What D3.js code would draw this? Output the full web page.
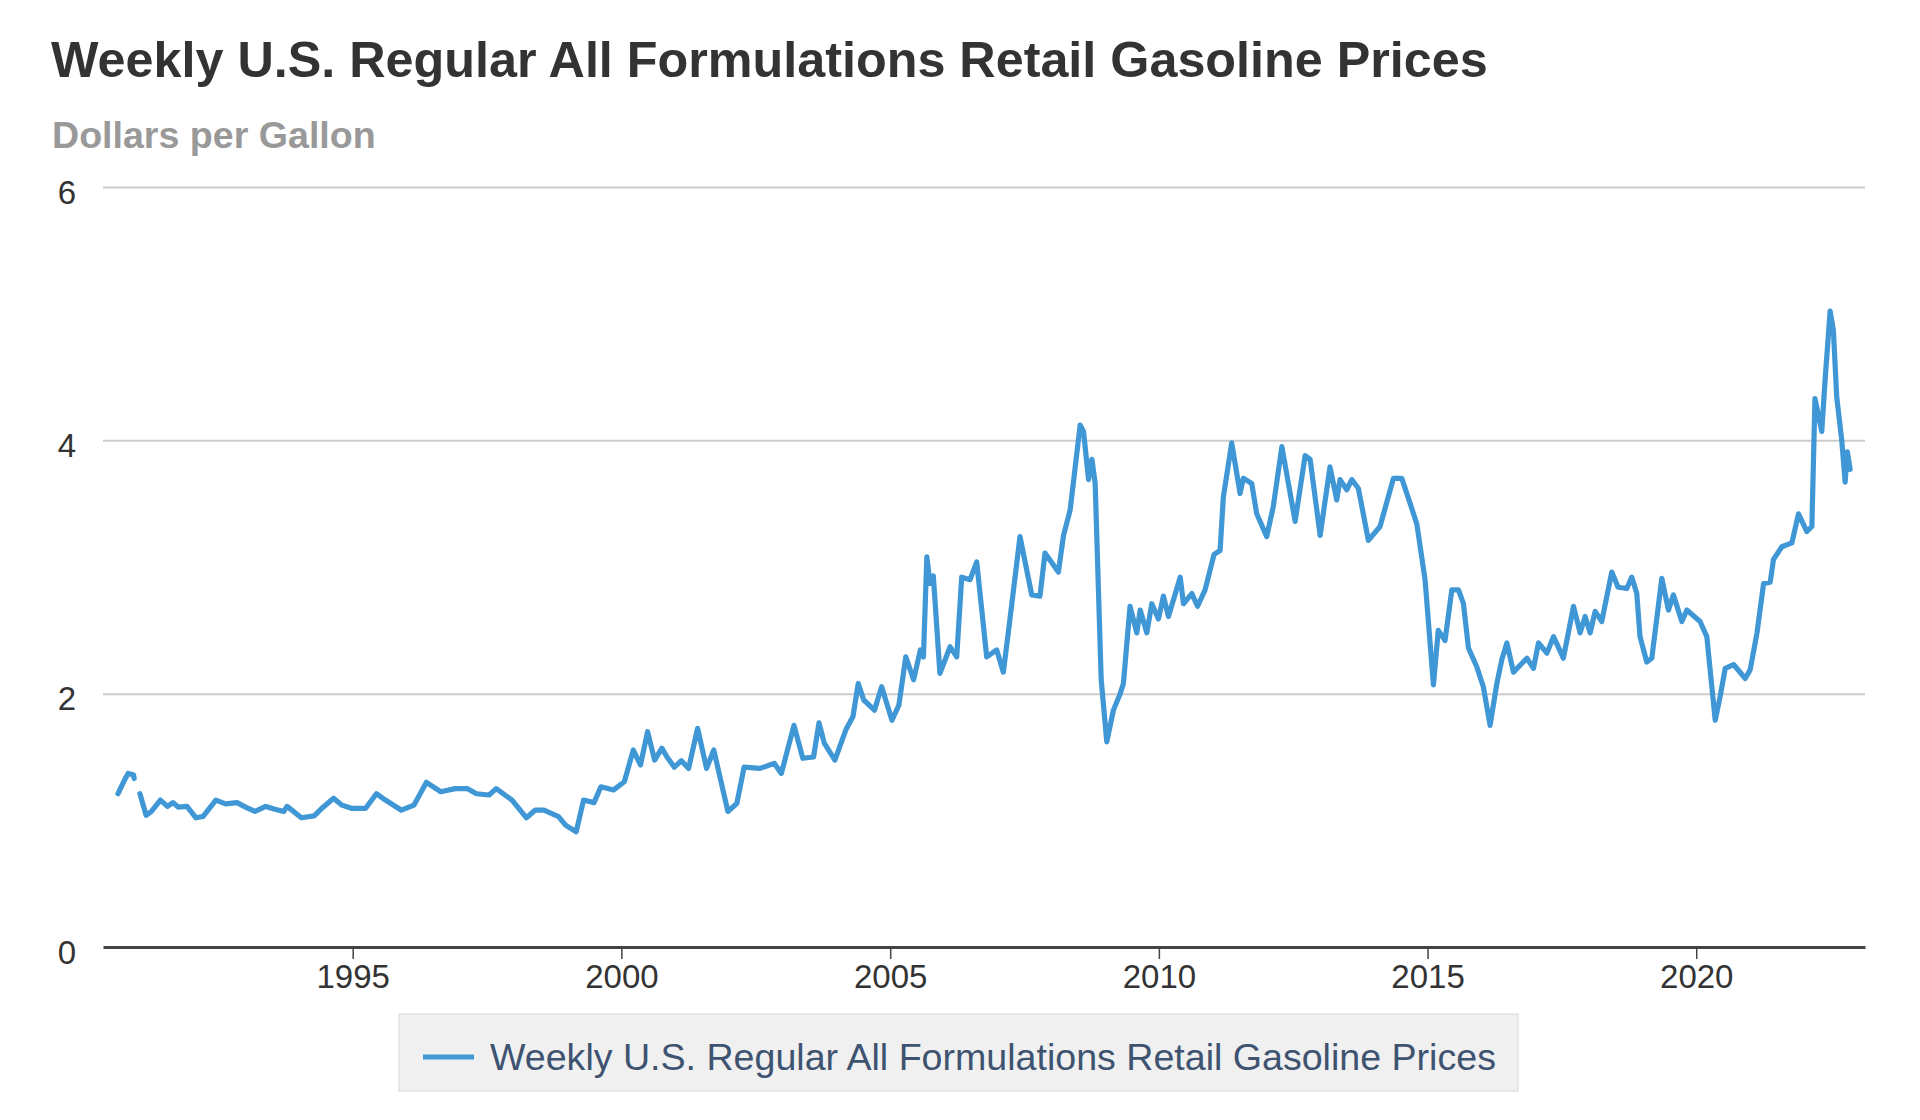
<!DOCTYPE html>
<html>
<head>
<meta charset="utf-8">
<script src="https://cdn.jsdelivr.net/npm/d3@7"></script>
<style>
  body { margin: 0; background: #fff; }
  svg { display: block; font-family: "Liberation Sans", Arial, sans-serif; }
</style>
</head>
<body>
<script>
const title = "Weekly U.S. Regular All Formulations Retail Gasoline Prices";
const unitLabel = "Dollars per Gallon";
const seriesName = "Weekly U.S. Regular All Formulations Retail Gasoline Prices";

const yTicks = [0, 2, 4, 6];
const xTickYears = [1995, 2000, 2005, 2010, 2015, 2020];
const xDomain = ["1990-05-10", "2023-02-21"];

// weekly series (null = missing weeks early 1991)
const dates = [
  "1990-08-20", "1990-10-04", "1990-10-28", "1990-12-03", "1990-12-08", "1990-12-24",
  "1991-01-16", "1991-02-27", "1991-04-04", "1991-06-04", "1991-07-22", "1991-08-28", "1991-10-03", "1991-12-02",
  "1992-02-01", "1992-03-19", "1992-06-15", "1992-08-20", "1992-11-06",
  "1993-01-10", "1993-03-08", "1993-05-20", "1993-07-15", "1993-09-19", "1993-10-12",
  "1994-01-17", "1994-04-14", "1994-06-10", "1994-08-24", "1994-10-20", "1994-12-23",
  "1995-03-30", "1995-06-11", "1995-08-11", "1995-11-28",
  "1996-02-21", "1996-05-16", "1996-08-22", "1996-11-27",
  "1997-02-20", "1997-04-21", "1997-07-16", "1997-09-02", "1997-12-19",
  "1998-03-27", "1998-05-24", "1998-07-24", "1998-10-31", "1998-12-19",
  "1999-02-28", "1999-04-19", "1999-06-29", "1999-08-15", "1999-11-09",
  "2000-01-21", "2000-03-22", "2000-05-10", "2000-06-27", "2000-08-14", "2000-10-02", "2000-11-06", "2000-12-26",
  "2001-02-12", "2001-04-02", "2001-06-02", "2001-08-02", "2001-09-20", "2001-12-25",
  "2002-02-24", "2002-04-14", "2002-07-31", "2002-11-05", "2002-12-23",
  "2003-03-19", "2003-05-18", "2003-07-30", "2003-09-05", "2003-10-11", "2003-12-22",
  "2004-03-05", "2004-04-23", "2004-05-29", "2004-07-05", "2004-09-16", "2004-11-04",
  "2005-01-13", "2005-03-01", "2005-04-17", "2005-06-09", "2005-07-25", "2005-08-15", "2005-09-07", "2005-09-29", "2005-10-21", "2005-12-05",
  "2006-02-12", "2006-03-29", "2006-05-02", "2006-06-28", "2006-08-12", "2006-10-19", "2006-12-26",
  "2007-02-09", "2007-03-25", "2007-06-02", "2007-08-21", "2007-10-16", "2007-11-19",
  "2008-02-18", "2008-03-24", "2008-05-08", "2008-07-15", "2008-08-07", "2008-09-10", "2008-10-03", "2008-10-25", "2008-12-05",
  "2009-01-12", "2009-02-26", "2009-04-13", "2009-05-05", "2009-06-19", "2009-08-04", "2009-08-27", "2009-10-11", "2009-11-14", "2009-12-29",
  "2010-02-01", "2010-03-07", "2010-05-26", "2010-06-17", "2010-08-13", "2010-09-21", "2010-11-11",
  "2011-01-11", "2011-02-21", "2011-03-15", "2011-05-11", "2011-07-07", "2011-07-29", "2011-09-24", "2011-10-28",
  "2012-01-04", "2012-02-18", "2012-04-16", "2012-07-15", "2012-09-21", "2012-10-25",
  "2013-01-01", "2013-03-09", "2013-04-24", "2013-05-16", "2013-07-01", "2013-08-04", "2013-09-18", "2013-11-25",
  "2014-02-12", "2014-05-14", "2014-07-10", "2014-09-05", "2014-10-20", "2014-12-15",
  "2015-02-10", "2015-03-15", "2015-04-30", "2015-06-15", "2015-07-30", "2015-09-02", "2015-10-06", "2015-12-02",
  "2016-01-15", "2016-03-01", "2016-04-16", "2016-05-20", "2016-06-23", "2016-08-07", "2016-11-06", "2016-12-21",
  "2017-01-24", "2017-03-22", "2017-05-06", "2017-07-12", "2017-09-19", "2017-11-03", "2017-12-07",
  "2018-01-10", "2018-02-13", "2018-03-30", "2018-06-06", "2018-07-19", "2018-09-16", "2018-10-20", "2018-11-23", "2018-12-15",
  "2019-01-30", "2019-03-05", "2019-05-12", "2019-06-26", "2019-07-30", "2019-09-25", "2019-10-29",
  "2020-01-27", "2020-03-13", "2020-05-09", "2020-06-12", "2020-07-16", "2020-09-11", "2020-11-29",
  "2021-01-02", "2021-02-17", "2021-04-03", "2021-05-18", "2021-06-09", "2021-08-05", "2021-10-12", "2021-11-26",
  "2022-01-22", "2022-02-25", "2022-03-18", "2022-05-03", "2022-05-26", "2022-06-29", "2022-07-21", "2022-08-13",
  "2022-09-16", "2022-10-09", "2022-10-24", "2022-11-12"
];

const prices = [
  1.21, 1.32, 1.37, 1.36, 1.33, null,
  1.21, 1.04, 1.07, 1.16, 1.11, 1.14, 1.105, 1.11,
  1.02, 1.03, 1.16, 1.13, 1.14,
  1.10, 1.07, 1.11, 1.09, 1.07, 1.11,
  1.02, 1.035, 1.10, 1.175, 1.12, 1.095,
  1.095, 1.21, 1.16, 1.08,
  1.12, 1.30, 1.226, 1.25,
  1.25, 1.21, 1.20, 1.25, 1.16,
  1.02, 1.08, 1.08, 1.03, 0.96,
  0.91, 1.16, 1.14, 1.265, 1.24,
  1.305, 1.555, 1.437, 1.70, 1.476, 1.57, 1.50, 1.42,
  1.47, 1.41, 1.726, 1.41, 1.555, 1.07,
  1.134, 1.42, 1.41, 1.45, 1.37,
  1.75, 1.49, 1.50, 1.77, 1.61, 1.476,
  1.713, 1.82, 2.08, 1.95, 1.87, 2.055,
  1.79, 1.91, 2.29, 2.11, 2.345, 2.29, 3.08, 2.87, 2.93, 2.16,
  2.37, 2.29, 2.92, 2.90, 3.04, 2.29, 2.345,
  2.17, 2.58, 3.24, 2.78, 2.77, 3.11,
  2.96, 3.25, 3.45, 4.12, 4.07, 3.69, 3.85, 3.66, 2.11,
  1.62, 1.87, 2.00, 2.08, 2.69, 2.48, 2.66, 2.48, 2.71, 2.59,
  2.77, 2.61, 2.92, 2.71, 2.79, 2.69, 2.82,
  3.10, 3.13, 3.55, 3.98, 3.58, 3.70, 3.66, 3.42,
  3.24, 3.48, 3.95, 3.36, 3.88, 3.85,
  3.25, 3.79, 3.53, 3.69, 3.61, 3.69, 3.62, 3.21,
  3.32, 3.70, 3.70, 3.50, 3.34, 2.90,
  2.07, 2.50, 2.42, 2.82, 2.82, 2.71, 2.36, 2.21,
  2.055, 1.75, 2.08, 2.27, 2.40, 2.17, 2.28, 2.20,
  2.40, 2.32, 2.45, 2.28, 2.69, 2.48, 2.61,
  2.48, 2.65, 2.57, 2.96, 2.84, 2.83, 2.92, 2.79, 2.45,
  2.25, 2.28, 2.91, 2.66, 2.78, 2.57, 2.66,
  2.57, 2.45, 1.79, 1.98, 2.20, 2.23, 2.12,
  2.19, 2.48, 2.87, 2.88, 3.06, 3.16, 3.19, 3.42,
  3.28, 3.32, 4.33, 4.07, 4.48, 5.02, 4.87, 4.34,
  4.00, 3.67, 3.91, 3.77
];

const width = 1920;
const height = 1120;
const plot = { left: 103, right: 1865, top: 187, bottom: 947 };

const parse = d3.timeParse("%Y-%m-%d");
const data = dates.map((d, i) => ({ date: parse(d), value: prices[i] }));

const x = d3.scaleTime()
  .domain(xDomain.map(parse))
  .range([plot.left, plot.right]);

const y = d3.scaleLinear()
  .domain([0, 6])
  .range([plot.bottom, plot.top]);

const svg = d3.select("body").append("svg")
  .attr("width", width)
  .attr("height", height);

svg.append("text")
  .attr("x", 51)
  .attr("y", 77)
  .attr("fill", "#333")
  .style("font-size", "50.3px")
  .style("font-weight", "bold")
  .text(title);

svg.append("text")
  .attr("x", 52)
  .attr("y", 148)
  .attr("fill", "#999")
  .style("font-size", "37.6px")
  .style("font-weight", "bold")
  .text(unitLabel);

// gridlines + y labels
const yAxis = svg.append("g")
  .attr("transform", `translate(${plot.left},0)`)
  .call(d3.axisLeft(y)
    .tickValues(yTicks)
    .tickFormat(d3.format("d"))
    .tickSize(-(plot.right - plot.left))
    .tickPadding(27));

yAxis.select(".domain").remove();
yAxis.selectAll(".tick line")
  .attr("stroke", d => d === 0 ? "none" : "#cccccc")
  .attr("stroke-width", 2);
yAxis.selectAll(".tick text")
  .attr("dy", 16)
  .attr("fill", "#333")
  .style("font-size", "33px")
  .style("font-family", "Liberation Sans, Arial, sans-serif");

// x axis
const xAxis = svg.append("g")
  .attr("transform", `translate(0,${plot.bottom})`)
  .call(d3.axisBottom(x)
    .tickValues(xTickYears.map(yr => new Date(yr, 0, 1)))
    .tickFormat(d3.timeFormat("%Y"))
    .tickSizeInner(12)
    .tickSizeOuter(0)
    .tickPadding(8));

xAxis.select(".domain")
  .attr("stroke", "#444")
  .attr("stroke-width", 3);
xAxis.selectAll(".tick line")
  .attr("stroke", "#444")
  .attr("stroke-width", 1.5);
xAxis.selectAll(".tick text")
  .attr("dy", 0)
  .attr("y", 41)
  .attr("fill", "#333")
  .style("font-size", "33px")
  .style("font-family", "Liberation Sans, Arial, sans-serif");

const line = d3.line()
  .defined(d => d.value != null)
  .x(d => x(d.date))
  .y(d => y(d.value));

svg.append("path")
  .datum(data)
  .attr("d", line)
  .attr("fill", "none")
  .attr("stroke", "#4097d6")
  .attr("stroke-width", 5.2)
  .attr("stroke-linejoin", "round")
  .attr("stroke-linecap", "round");

// legend
const legend = svg.append("g");
legend.append("rect")
  .attr("x", 399)
  .attr("y", 1014)
  .attr("width", 1119)
  .attr("height", 77)
  .attr("fill", "#f0f0f0")
  .attr("stroke", "#e2e2e2")
  .attr("stroke-width", 1.5);
legend.append("line")
  .attr("x1", 423)
  .attr("x2", 474)
  .attr("y1", 1057)
  .attr("y2", 1057)
  .attr("stroke", "#4097d6")
  .attr("stroke-width", 5);
legend.append("text")
  .attr("x", 490)
  .attr("y", 1070)
  .attr("fill", "#3e5370")
  .style("font-size", "37.6px")
  .text(seriesName);
</script>
</body>
</html>
